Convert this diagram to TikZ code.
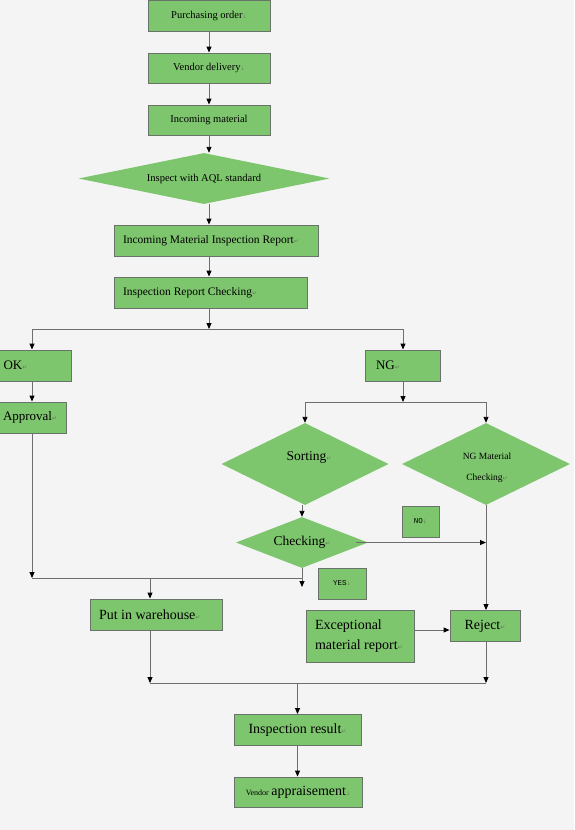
\documentclass[tikz,border=0pt]{standalone}
\usepackage{fontspec}
\setmainfont{Liberation Serif}
\newfontfamily\monofnt{Liberation Mono}
\newfontfamily\symfnt{DejaVu Sans}
\usetikzlibrary{shapes.geometric,arrows.meta}
\definecolor{bg}{RGB}{244,244,244}
\definecolor{gfill}{RGB}{126,198,110}
\definecolor{gborder}{RGB}{105,115,105}
\definecolor{lnc}{RGB}{110,110,110}
\definecolor{retc}{RGB}{95,125,85}
\newcommand\fs[1]{\fontsize{#1}{#1}\selectfont}
\newcommand\rt{{\symfnt\fontsize{6}{6}\selectfont\textcolor{retc}{↵}}}
\newcommand\rd{{\symfnt\fontsize{5}{5}\selectfont\textcolor{retc}{↓}}}
\newcommand\lft[2]{\makebox[#1][l]{#2}}
\begin{document}
\begin{tikzpicture}[x=1pt,y=-1pt,
  box/.style={draw=gborder, fill=gfill, line width=0.9pt, rectangle, inner sep=0pt, text=black},
  dia/.style={draw=none, fill=gfill, diamond, inner sep=0pt, text=black},
  arr/.style={draw=lnc, line width=0.9pt, -{Triangle[length=6pt,width=5pt,color=black]}},
  ln/.style={draw=lnc, line width=0.9pt}]
\useasboundingbox (0,0) rectangle (574,830);
\fill[bg] (0,0) rectangle (574,830);

% top chain
\node[box, minimum width=122pt, minimum height=31pt] (po) at (209,16) {\fs{10.5}Purchasing order\rd};
\node[box, minimum width=122pt, minimum height=30pt] (vd) at (209,68) {\fs{10.5}Vendor delivery\rd};
\node[box, minimum width=122pt, minimum height=30pt] (im) at (209,120) {\fs{10.5}Incoming material};
\node[dia, minimum width=251pt, minimum height=51pt, aspect=4.92] (aql) at (204,178.5) {\fs{10.5}Inspect with AQL standard};
\node[box, minimum width=204pt, minimum height=31pt, inner xsep=9pt] (imir) at (216,240.5) {\lft{186pt}{\fs{11.5}Incoming Material Inspection Report\rt}};
\node[box, minimum width=193pt, minimum height=31pt, inner xsep=9pt] (irc) at (210.5,292.5) {\lft{175pt}{\fs{11.5}Inspection Report Checking\rt}};

% OK branch
\node[box, minimum width=72pt, minimum height=31pt, inner xsep=4.5pt] (ok) at (35,365.5) {\lft{63pt}{\fs{13}OK\rt}};
\node[box, minimum width=67pt, minimum height=31pt, inner xsep=4pt] (appr) at (32.5,417.5) {\lft{59pt}{\fs{13}Approval\rt}};

% NG branch
\node[box, minimum width=75pt, minimum height=31pt, inner xsep=11pt] (ng) at (402.5,365.5) {\lft{53pt}{\fs{13}NG\rt}};
\node[dia, minimum width=167pt, minimum height=82pt, aspect=2.04] (sort) at (305,464) {};
\node (sortlbl) at (309,457) {\fs{13.5}Sorting\rt};
\node[dia, minimum width=168pt, minimum height=82pt, aspect=2.05] (ngmc) at (486,464) {};
\node[align=center] (ngmclbl) at (487,468) {\fs{9.5}NG Material\\[9pt] \fs{9.5}Checking\rt};
\node[dia, minimum width=132pt, minimum height=51pt, aspect=2.6] (chk) at (302,542.5) {\fs{13.5}Checking\rt};
\node[box, minimum width=37pt, minimum height=31pt] (no) at (420.5,521.5) {\monofnt\fs{7.5}NO\rd};
\node[box, minimum width=48pt, minimum height=31pt] (yes) at (342,583.5) {\monofnt\fs{7.5}YES\rd};

\node[box, minimum width=132pt, minimum height=31pt, inner xsep=9pt] (piw) at (156,614.5) {\lft{114pt}{\fs{14}Put in warehouse\rt}};
\node[box, minimum width=108pt, minimum height=52pt, text width=90pt, align=left, inner xsep=9pt] (emr) at (360,636) {\fs{14}Exceptional\\[7pt] material report\rt};
\node[box, minimum width=70pt, minimum height=31pt] (rej) at (485,626) {\fs{14}Reject\rt};

\node[box, minimum width=127pt, minimum height=31pt] (ir) at (297.5,730) {\fs{14}Inspection result\rt};
\node[box, minimum width=128pt, minimum height=30pt] (va) at (298,792) {{\fs{8}Vendor} \fs{14}appraisement\rd};

% connectors top
\draw[arr] (po) -- (vd);
\draw[arr] (vd) -- (im);
\draw[arr] (im) -- (im.south |- aql.north);
\draw[arr] (aql.south -| im.south) -- (imir.north -| im.south);
\draw[arr] (imir.south -| im.south) -- (irc.north -| im.south);
\coordinate (s1) at (209,329);
\coordinate (s1l) at (32,329);
\coordinate (s1r) at (403,329);
\draw[arr] (irc.south -| s1) -- (s1);
\draw[ln] (s1l) -- (s1r);
\draw[arr] (s1l) -- (s1l |- ok.north);
\draw[arr] (s1r) -- (s1r |- ng.north);
\draw[arr] (ok.south -| s1l) -- (appr.north -| s1l);

% OK merge
\coordinate (j1) at (32,578);
\coordinate (j1r) at (chk.south |- j1);
\coordinate (j1m) at (150,578);
\draw[arr] (appr.south -| s1l) -- (j1);
\draw[ln] (j1) -- (j1r);
\draw[arr] (j1m) -- (j1m |- piw.north);
\draw[arr] (chk.south) -- (chk.south |- 0,587);

% NG split
\coordinate (s2) at (403,402);
\coordinate (s2l) at (305,402);
\coordinate (s2r) at (486,402);
\draw[arr] (ng.south -| s2) -- (s2);
\draw[ln] (s2l) -- (s2r);
\draw[arr] (s2l) -- (sort.north);
\draw[arr] (s2r) -- (ngmc.north);
\draw[arr] (sort.south -| chk.north) -- (chk.north);
\draw[arr] ([xshift=-12pt]chk.east) -- (chk.east -| ngmc.south);
\draw[arr] (ngmc.south) -- (rej.north -| ngmc.south);
\draw[arr] (emr.east |- 0,630) -- (rej.west |- 0,630);

% bottom merge
\coordinate (j2l) at (150,683);
\coordinate (j2r) at (486,683);
\coordinate (j2m) at (ir.north |- j2l);
\draw[arr] (piw.south -| j2l) -- (j2l);
\draw[arr] (rej.south -| j2r) -- (j2r);
\draw[ln] (j2l) -- (j2r);
\draw[arr] (j2m) -- (ir.north);
\draw[arr] (ir.south) -- (va.north -| ir.south);
\end{tikzpicture}
\end{document}
